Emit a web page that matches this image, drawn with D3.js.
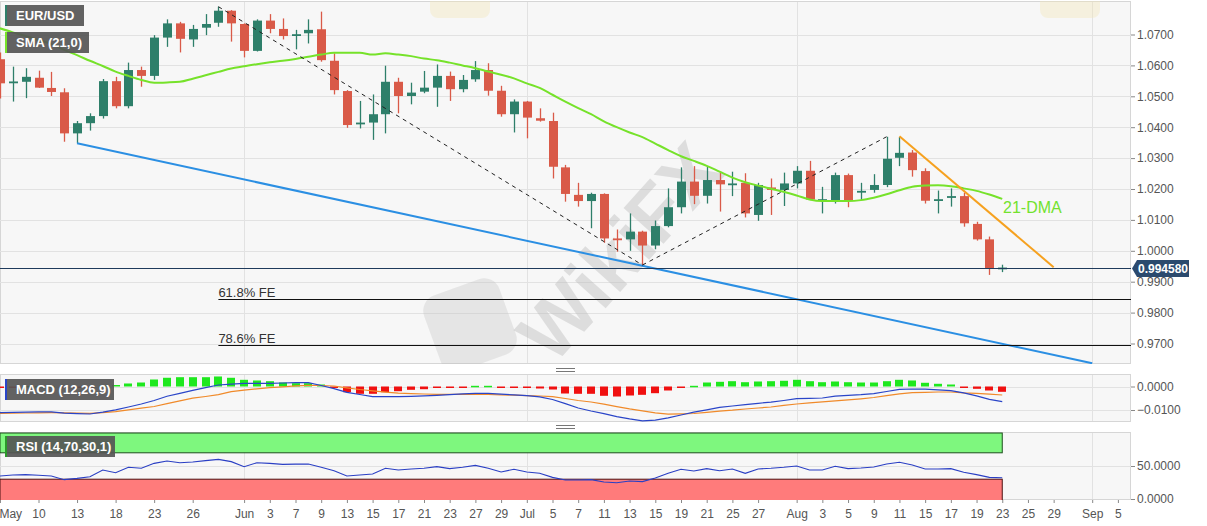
<!DOCTYPE html>
<html><head><meta charset="utf-8">
<script src="https://cdn.jsdelivr.net/npm/d3@7"></script>
<style>body{margin:0;background:#fff;}svg{display:block;font-family:"Liberation Sans",Arial,sans-serif;}</style>
</head><body><svg id="c" width="1207" height="526"></svg>
<script>
// ---------- data ----------
const firstDate = "2022-05-05", lastAxisDate = "2022-09-06";
const open = [1.0620,1.0545,1.0547,1.0560,1.0527,1.0513,1.0380,1.0413,1.0436,1.0549,
1.0468,1.0585,1.0566,1.0690,1.0736,1.0684,1.0722,1.0738,1.0777,1.0734,
1.0647,1.0745,1.0718,1.0697,1.0704,1.0717,1.0615,1.0517,1.0410,1.0415,
1.0442,1.0547,1.0501,1.0515,1.0528,1.0566,1.0523,1.0555,1.0585,1.0518,
1.0442,1.0483,1.0429,1.0420,1.0270,1.0181,1.0161,1.0184,1.0040,1.0037,
1.0062,1.0017,1.0080,1.0141,1.0224,1.0178,1.0229,1.0215,1.0220,1.0116,
1.0205,1.0197,1.0218,1.0259,1.0164,1.0161,1.0245,1.0189,1.0197,1.0213,
1.0301,1.0318,1.0258,1.0164,1.0173,1.0177,1.0087,1.0037,0.9942];
const high = [1.0642,1.0596,1.0591,1.0583,1.0579,1.0526,1.0420,1.0445,1.0556,1.0563,
1.0609,1.0596,1.0698,1.0749,1.0741,1.0731,1.0766,1.0790,1.0779,1.0736,
1.0749,1.0766,1.0752,1.0715,1.0749,1.0774,1.0639,1.0520,1.0485,1.0506,
1.0599,1.0560,1.0544,1.0582,1.0603,1.0580,1.0569,1.0614,1.0607,1.0534,
1.0490,1.0485,1.0461,1.0447,1.0278,1.0220,1.0188,1.0186,1.0069,1.0121,
1.0065,1.0098,1.0202,1.0270,1.0274,1.0272,1.0256,1.0256,1.0251,1.0220,
1.0234,1.0253,1.0274,1.0291,1.0207,1.0253,1.0250,1.0220,1.0248,1.0369,
1.0368,1.0326,1.0267,1.0195,1.0202,1.0188,1.0094,1.0046,0.9955];
const low = [1.0493,1.0483,1.0494,1.0527,1.0501,1.0353,1.0348,1.0389,1.0428,1.0461,
1.0461,1.0531,1.0553,1.0660,1.0642,1.0660,1.0698,1.0725,1.0677,1.0626,
1.0645,1.0704,1.0684,1.0652,1.0671,1.0612,1.0506,1.0398,1.0396,1.0359,
1.0380,1.0445,1.0474,1.0510,1.0466,1.0485,1.0513,1.0547,1.0502,1.0434,
1.0383,1.0364,1.0418,1.0234,1.0159,1.0143,1.0073,1.0026,0.9997,1.0000,
0.9954,1.0005,1.0076,1.0121,1.0151,1.0153,1.0127,1.0177,1.0108,1.0097,
1.0116,1.0145,1.0202,1.0164,1.0121,1.0153,1.0141,1.0164,1.0188,1.0206,
1.0274,1.0240,1.0153,1.0121,1.0143,1.0078,1.0033,0.9922,0.9931];
const close = [1.0542,1.0548,1.0563,1.0528,1.0514,1.0380,1.0413,1.0436,1.0549,1.0468,
1.0585,1.0566,1.0690,1.0736,1.0686,1.0718,1.0734,1.0777,1.0736,1.0647,
1.0745,1.0718,1.0695,1.0701,1.0715,1.0617,1.0520,1.0407,1.0415,1.0442,
1.0547,1.0501,1.0512,1.0528,1.0566,1.0523,1.0553,1.0585,1.0518,1.0442,
1.0483,1.0431,1.0421,1.0272,1.0184,1.0161,1.0184,1.0040,1.0037,1.0062,
1.0017,1.0080,1.0141,1.0224,1.0178,1.0229,1.0215,1.0218,1.0121,1.0213,
1.0197,1.0218,1.0259,1.0166,1.0167,1.0245,1.0161,1.0194,1.0213,1.0298,
1.0317,1.0261,1.0162,1.0167,1.0177,1.0089,1.0037,0.9943,0.99458];
const sma21 = [1.0720,1.0707,1.0695,1.0682,1.0669,1.0650,1.0633,1.0615,1.0598,1.0580,
1.0566,1.0553,1.0544,1.0545,1.0547,1.0557,1.0568,1.0579,1.0590,1.0597,
1.0604,1.0610,1.0615,1.0621,1.0628,1.0635,1.0641,1.0641,1.0641,1.0635,
1.0639,1.0635,1.0630,1.0622,1.0617,1.0609,1.0600,1.0591,1.0580,1.0570,
1.0558,1.0542,1.0527,1.0505,1.0483,1.0462,1.0442,1.0419,1.0400,1.0383,
1.0368,1.0347,1.0326,1.0306,1.0291,1.0275,1.0256,1.0237,1.0222,1.0211,
1.0201,1.0191,1.0179,1.0166,1.0161,1.0161,1.0161,1.0164,1.0172,1.0183,
1.0196,1.0207,1.0211,1.0212,1.0209,1.0202,1.0194,1.0182,1.0168];
const macdLine = [-0.01115,-0.01102,-0.01089,-0.01081,-0.01077,-0.01136,-0.01153,-0.0117,-0.01089,-0.00991,
-0.00872,-0.00745,-0.00596,-0.00413,-0.00289,-0.00166,-0.00051,0.00064,0.00102,0.00136,
0.00136,0.00136,0.00149,0.00162,0.00162,0.00043,-0.00089,-0.00251,-0.0034,-0.00434,
-0.00434,-0.00434,-0.00417,-0.004,-0.00374,-0.00345,-0.00315,-0.00289,-0.00289,-0.00328,
-0.00357,-0.00387,-0.00443,-0.00553,-0.00728,-0.00915,-0.01043,-0.01157,-0.01281,-0.01379,
-0.0146,-0.0143,-0.01332,-0.01213,-0.01094,-0.00996,-0.00889,-0.0083,-0.0077,-0.00715,
-0.00664,-0.00596,-0.00519,-0.00506,-0.00489,-0.00409,-0.00374,-0.00345,-0.00302,-0.00213,
-0.00123,-0.00106,-0.00115,-0.0014,-0.00174,-0.00272,-0.004,-0.00545,-0.00647];
const signalLine = [-0.0114,-0.01132,-0.01128,-0.01119,-0.01115,-0.01123,-0.01132,-0.0114,-0.01111,-0.01068,
-0.00996,-0.00923,-0.00851,-0.00728,-0.00613,-0.00494,-0.00426,-0.00349,-0.00217,-0.00157,
-0.00098,-0.00047,-0.00013,0.00026,0.00051,0.00043,0.00021,-0.00055,-0.00128,-0.00183,
-0.00238,-0.00285,-0.00302,-0.00319,-0.00332,-0.00332,-0.00332,-0.00332,-0.0034,-0.00353,
-0.0037,-0.00387,-0.00404,-0.0043,-0.00511,-0.00596,-0.0066,-0.00749,-0.00855,-0.00953,
-0.01038,-0.01119,-0.01174,-0.01162,-0.01149,-0.01098,-0.01047,-0.01009,-0.00957,-0.00915,
-0.00872,-0.00804,-0.00745,-0.00694,-0.00651,-0.00609,-0.00566,-0.00523,-0.00468,-0.00387,
-0.00311,-0.0026,-0.00247,-0.00234,-0.00234,-0.00272,-0.00294,-0.00323,-0.00362];
const macdHist = [-0.00021,-0.00013,0.00021,0.00021,0.00021,-0.00013,-0.00021,-0.00021,0.00043,0.00064,
0.00128,0.0017,0.00298,0.00371,0.00396,0.00396,0.00396,0.00426,0.00371,0.00285,
0.00256,0.00226,0.0017,0.00141,0.00141,0.00085,-0.00055,-0.00243,-0.00311,-0.00311,
-0.00243,-0.002,-0.00141,-0.00115,-0.00043,-0.00043,-0.00021,0.0003,0.0003,-0.00021,
-0.00043,-0.00064,-0.00085,-0.00128,-0.00298,-0.00311,-0.00311,-0.00396,-0.00426,-0.00383,
-0.00354,-0.00285,-0.0017,-0.00021,0.0003,0.0017,0.002,0.00226,0.00183,0.00213,
0.00226,0.00243,0.00285,0.00226,0.00183,0.00213,0.00183,0.0017,0.0017,0.00226,
0.00285,0.00256,0.00158,0.00115,0.00085,-0.00021,-0.00098,-0.0017,-0.00226];
const rsi = [34.8,36.4,36.9,35.9,34.8,29.3,31.3,33.8,43.9,39.9,
48,46.5,54,57.6,55,56.1,58.1,60.1,56.6,49,
55,54,52.5,52.8,53,48,42.9,34.8,36.4,37.9,
46.5,43.9,45.5,46.5,49,46,48,51,46.5,40.9,
45,40.9,38.9,32.8,28.8,28.8,29.3,25.8,24.7,27.3,
26.3,31.8,38.9,45,42.4,46,42.9,45.5,38.9,45.5,
46.5,48,50,43.9,43.9,49.5,46,47,48.5,53,
55.6,51.5,45.5,45.5,46,40.4,36.9,32.8,32.3];
const tickDates = ["2022-05-05","2022-05-10","2022-05-13","2022-05-18","2022-05-23","2022-05-26","2022-06-01","2022-06-03","2022-06-07","2022-06-09","2022-06-13","2022-06-15","2022-06-17","2022-06-21","2022-06-23","2022-06-27","2022-06-29","2022-07-01","2022-07-05","2022-07-07","2022-07-11","2022-07-13","2022-07-15","2022-07-19","2022-07-21","2022-07-25","2022-07-27","2022-08-01","2022-08-03","2022-08-05","2022-08-09","2022-08-11","2022-08-15","2022-08-17","2022-08-19","2022-08-23","2022-08-25","2022-08-29","2022-09-01","2022-09-05"];
const tickLabels = ["May","10","13","18","23","26","Jun","3","7","9","13","15","17","21","23","27","29","Jul","5","7","11","13","15","19","21","25","27","Aug","3","5","9","11","15","17","19","23","25","29","Sep","5"];
const monthStarts = ["2022-06-01","2022-07-01","2022-08-01","2022-09-01"];
const priceTicks = [0.97,0.98,0.99,1.00,1.01,1.02,1.03,1.04,1.05,1.06,1.07];
const macdTicks = [-0.01,0];
const rsiTicks = [0,50];
const lastPrice = 0.99458;
const blueTrend = [["2022-05-13",1.0348],["2022-09-01",0.9636]];
const dashDown = [["2022-05-30",1.0790],["2022-07-14",0.9954]];
const dashUp = [["2022-07-14",0.9954],["2022-08-10",1.0369]];
const orangeTrend = [["2022-08-11",1.0371],["2022-08-29",0.9947]];
const feLevels = [0.9845,0.9696];
const feLabels = ["61.8% FE","78.6% FE"];
const feStart = "2022-05-30";

// ---------- setup ----------
const allDates = [];
for (let d = new Date(firstDate+"T00:00:00Z"); d <= new Date(lastAxisDate+"T00:00:00Z"); d.setUTCDate(d.getUTCDate()+1)) {
  const w = d.getUTCDay(); if (w !== 0 && w !== 6) allDates.push(d.toISOString().slice(0,10));
}
const candleDates = allDates.slice(0, open.length);
const candles = candleDates.map((d,i)=>({d,o:open[i],h:high[i],l:low[i],c:close[i]}));

const R = 1131;
const x = d3.scalePoint().domain(allDates).range([-0.05, 1130.75]);
const yP = d3.scaleLinear().domain([0.97,1.07]).range([343.5,34.5]);
const yM = d3.scaleLinear().domain([-0.01,0]).range([410,386.5]);
const yR = d3.scaleLinear().domain([0,100]).range([499,433]);
const P = {main:[1,364], macd:[374,422], rsi:[432,500]};

const svg = d3.select("#c");
svg.append("rect").attr("width",1207).attr("height",526).attr("fill","#fff");
const defs = svg.append("defs");
Object.entries(P).forEach(([k,[a,b]])=>{
  defs.append("clipPath").attr("id","clip-"+k).append("rect").attr("x",0).attr("y",a).attr("width",R).attr("height",b-a);
  svg.append("rect").attr("x",0.5).attr("y",a+0.5).attr("width",R-1).attr("height",b-a-1).attr("fill","#f7f7f7").attr("stroke","#d6d6d6");
});

// gridlines
const grid = svg.append("g").attr("stroke","#e2e2e2").attr("stroke-width",1);
priceTicks.forEach(t=>grid.append("line").attr("x1",0).attr("x2",R).attr("y1",Math.round(yP(t))+0.5).attr("y2",Math.round(yP(t))+0.5));
macdTicks.forEach(t=>grid.append("line").attr("x1",0).attr("x2",R).attr("y1",Math.round(yM(t))+0.5).attr("y2",Math.round(yM(t))+0.5));
grid.append("line").attr("x1",0).attr("x2",R).attr("y1",Math.round(yR(50))+0.5).attr("y2",Math.round(yR(50))+0.5);
Object.values(P).forEach(([a,b])=>monthStarts.forEach(m=>grid.append("line").attr("x1",Math.round(x(m))+0.5).attr("x2",Math.round(x(m))+0.5).attr("y1",a+1).attr("y2",b-1)));

// watermark (faint, inside plot)
const wm = svg.append("g").attr("pointer-events","none").attr("clip-path","url(#clip-main)");
wm.append("text").attr("transform","translate(640,270) rotate(-48)").attr("text-anchor","middle").attr("font-size",78).attr("font-weight","bold").attr("fill","#b8b8b8").attr("opacity",0.4).text("WikiFX");
wm.append("rect").attr("x",430).attr("y",285).attr("width",80).attr("height",80).attr("rx",16).attr("transform","rotate(-20,470,325)").attr("fill","#bdbdbd").attr("opacity",0.3);
wm.append("rect").attr("x",430).attr("y",-12).attr("width",60).attr("height",30).attr("rx",8).attr("fill","#f3e6b8").attr("opacity",0.4);
wm.append("rect").attr("x",1040).attr("y",-12).attr("width",60).attr("height",30).attr("rx",8).attr("fill","#f3e6b8").attr("opacity",0.4);

// ---------- main panel ----------
const gm = svg.append("g").attr("clip-path","url(#clip-main)");
const up = "#2e7f6a", dn = "#d95a48";
const cg = gm.append("g");
cg.selectAll("line").data(candles).join("line")
  .attr("x1",d=>Math.round(x(d.d))+0.5).attr("x2",d=>Math.round(x(d.d))+0.5)
  .attr("y1",d=>yP(d.h)).attr("y2",d=>yP(d.l))
  .attr("stroke",d=>d.c>=d.o?up:dn).attr("stroke-width",1.3);
cg.selectAll("rect").data(candles).join("rect")
  .attr("x",d=>Math.round(x(d.d))-4).attr("width",9)
  .attr("y",d=>yP(Math.max(d.o,d.c)))
  .attr("height",d=>Math.max(1.8,Math.abs(yP(d.o)-yP(d.c))))
  .attr("fill",d=>d.c>=d.o?up:dn);

// SMA
gm.append("path").datum(candleDates.map((d,i)=>[d,sma21[i]]))
  .attr("d",d3.line().x(d=>x(d[0])).y(d=>yP(d[1])).curve(d3.curveMonotoneX))
  .attr("fill","none").attr("stroke","#76e22a").attr("stroke-width",2);

const seg = (pts,color,w,dash)=>gm.append("line")
  .attr("x1",x(pts[0][0])).attr("y1",yP(pts[0][1])).attr("x2",x(pts[1][0])).attr("y2",yP(pts[1][1]))
  .attr("stroke",color).attr("stroke-width",w).attr("stroke-dasharray",dash||null);
seg(blueTrend,"#2b8fe3",2);
seg(dashDown,"#222",1,"4,4");
seg(dashUp,"#222",1,"4,4");
seg(orangeTrend,"#f6a11f",2);

// FE levels
feLevels.forEach((v,i)=>{
  const yy = Math.round(yP(v))+0.5;
  gm.append("line").attr("x1",x(feStart)).attr("x2",R).attr("y1",yy).attr("y2",yy).attr("stroke","#111").attr("stroke-width",1);
  gm.append("text").attr("x",x(feStart)).attr("y",yy-3).attr("font-size",13).attr("fill","#333").text(feLabels[i]);
});
// last price line
const yl = Math.round(yP(lastPrice))+0.5;
gm.append("line").attr("x1",0).attr("x2",R).attr("y1",yl).attr("y2",yl).attr("stroke","#1f3b5c").attr("stroke-width",1);
gm.append("text").attr("x",1003).attr("y",213).attr("font-size",16).attr("fill","#72e22e").text("21-DMA");

// ---------- MACD ----------
const gmc = svg.append("g").attr("clip-path","url(#clip-macd)");
gmc.selectAll("rect").data(candleDates.map((d,i)=>[d,macdHist[i]])).join("rect")
  .attr("x",d=>Math.round(x(d[0]))-4).attr("width",8)
  .attr("y",d=>Math.min(yM(0),yM(d[1]))).attr("height",d=>Math.max(1.5,Math.abs(yM(d[1])-yM(0))))
  .attr("fill",d=>d[1]>=0?"#1ee81e":"#f01010");
const lineM = d3.line().x(d=>x(d[0])).y(d=>yM(d[1]));
gmc.append("path").datum(candleDates.map((d,i)=>[d,signalLine[i]])).attr("d",lineM).attr("fill","none").attr("stroke","#f08a2a").attr("stroke-width",1.2);
gmc.append("path").datum(candleDates.map((d,i)=>[d,macdLine[i]])).attr("d",lineM).attr("fill","none").attr("stroke","#2a45c8").attr("stroke-width",1.2);

// ---------- RSI ----------
const gr = svg.append("g").attr("clip-path","url(#clip-rsi)");
const xEnd = x(candleDates[candleDates.length-1]);
gr.append("rect").attr("x",0).attr("y",yR(100)).attr("width",xEnd).attr("height",yR(70)-yR(100)).attr("fill","#7ef77e").attr("stroke","#1d4d1d").attr("stroke-width",1);
gr.append("rect").attr("x",0).attr("y",yR(30)).attr("width",xEnd).attr("height",yR(0)-yR(30)+2).attr("fill","#ff7b7b").attr("stroke","#4d1010").attr("stroke-width",1);
gr.append("path").datum(candleDates.map((d,i)=>[d,rsi[i]]))
  .attr("d",d3.line().x(d=>x(d[0])).y(d=>yR(d[1]))).attr("fill","none").attr("stroke","#2a3fc4").attr("stroke-width",1.1);

// ---------- legends ----------
function tag(xp,yp,w,h,txt,bar){
  svg.append("rect").attr("x",xp).attr("y",yp).attr("width",w).attr("height",h).attr("fill","#555").attr("opacity",0.92);
  svg.append("rect").attr("x",xp).attr("y",yp).attr("width",2).attr("height",h).attr("fill",bar);
  svg.append("text").attr("x",xp+11).attr("y",yp+h/2+4.5).attr("font-size",13).attr("font-weight","bold").attr("fill","#fff").text(txt);
}
tag(5,5,79,21,"EUR/USD","#2e7f6a");
tag(5,32,84,21,"SMA (21,0)","#76e22a");
tag(5,379,109,21,"MACD (12,26,9)","#2a45c8");
tag(5,436,110,21,"RSI (14,70,30,1)","#2a9a2a");

// panel handles
[370,427].forEach(yy=>[ -1.5, 1.5].forEach(o=>svg.append("line").attr("x1",556).attr("x2",575).attr("y1",yy+o).attr("y2",yy+o).attr("stroke","#777").attr("stroke-width",1)));

// ---------- axes ----------
const axStyle = g=>{g.select(".domain").remove();g.selectAll("line").attr("stroke","#888");g.selectAll("text").attr("fill","#555").attr("font-size",12).attr("font-family","Liberation Sans, Arial, sans-serif");};
svg.append("g").attr("transform",`translate(${R},0)`).call(d3.axisRight(yP).tickValues(priceTicks).tickFormat(d3.format(".4f")).tickSize(4).tickPadding(2)).call(axStyle);
svg.append("g").attr("transform",`translate(${R},0)`).call(d3.axisRight(yM).tickValues(macdTicks).tickFormat(d3.format(".4f")).tickSize(4).tickPadding(2)).call(axStyle);
svg.append("g").attr("transform",`translate(${R},0)`).call(d3.axisRight(yR).tickValues(rsiTicks).tickFormat(d3.format(".4f")).tickSize(4).tickPadding(2)).call(axStyle);
const xa = svg.append("g").attr("transform","translate(0,500)").call(d3.axisBottom(x).tickValues(tickDates).tickFormat((d,i)=>tickLabels[i]).tickSize(3).tickPadding(6)).call(axStyle);
xa.selectAll("text").filter(d=>d===tickDates[0]).attr("text-anchor","start").attr("x",-1);

// price tag
const pg = svg.append("g");
pg.append("path").attr("d",`M${R+1},${yl} L${R+6},${yl-8.5} L${R+58},${yl-8.5} L${R+58},${yl+8.5} L${R+6},${yl+8.5} Z`).attr("fill","#2b4a6e");
pg.append("text").attr("x",R+32).attr("y",yl+4.5).attr("text-anchor","middle").attr("font-size",12).attr("font-weight","bold").attr("fill","#fff").text(lastPrice.toFixed(6));
</script></body></html>
